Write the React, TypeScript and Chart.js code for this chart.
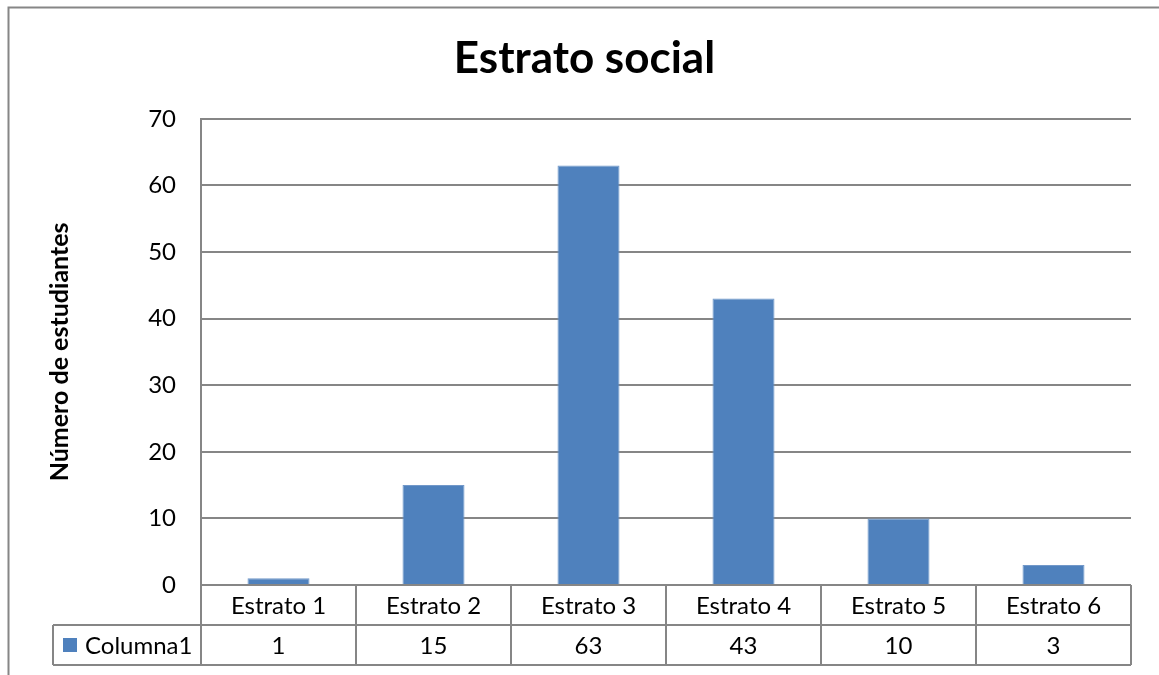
import React, { useEffect, useRef } from "react";
import { Chart, registerables } from "chart.js";

Chart.register(...registerables);

const categories = ["Estrato 1", "Estrato 2", "Estrato 3", "Estrato 4", "Estrato 5", "Estrato 6"];
const seriesName = "Columna1";
const values = [1, 15, 63, 43, 10, 3];
const chartTitle = "Estrato social";
const yTitle = "Número de estudiantes";
const yMax = 70;
const yStep = 10;

const FONT = "Lato, 'Noto Sans', sans-serif";
const GRID = "#868686";
const BAR = "#4F81BD";
const TXT = 24;

const tablePlugin = {
  id: "dataTable",
  afterDraw(chart: any) {
    const { ctx, chartArea, scales } = chart;
    const x = scales.x;
    const n = categories.length;
    const cw = (chartArea.right - chartArea.left) / n;
    const rowH = 40;
    const top = chartArea.bottom;
    const legendLeft = 53;
    ctx.save();
    ctx.strokeStyle = GRID;
    ctx.lineWidth = 2;
    // outer border
    ctx.beginPath();
    ctx.moveTo(8.5, 675);
    ctx.lineTo(8.5, 7.5);
    ctx.lineTo(1159, 7.5);
    ctx.stroke();
    // horizontal lines
    ctx.beginPath();
    ctx.moveTo(chartArea.left, top + rowH);
    ctx.lineTo(chartArea.right, top + rowH);
    ctx.moveTo(legendLeft, top + rowH);
    ctx.lineTo(chartArea.left, top + rowH);
    ctx.moveTo(legendLeft, top + 2 * rowH);
    ctx.lineTo(chartArea.right, top + 2 * rowH);
    ctx.moveTo(legendLeft, top + rowH);
    ctx.lineTo(legendLeft, top + 2 * rowH);
    for (let i = 0; i < n; i++) {
      const c = x.getPixelForValue(i);
      const l = c - cw / 2;
      const r = c + cw / 2;
      ctx.moveTo(l, top);
      ctx.lineTo(l, top + 2 * rowH);
      if (i === n - 1) {
        ctx.moveTo(r, top);
        ctx.lineTo(r, top + 2 * rowH);
      }
    }
    ctx.stroke();
    // text
    ctx.fillStyle = "#000";
    ctx.font = `${TXT}px ${FONT}`;
    ctx.textAlign = "center";
    ctx.textBaseline = "middle";
    for (let i = 0; i < n; i++) {
      const c = x.getPixelForValue(i);
      ctx.fillText(categories[i], c, top + rowH / 2 + 1);
      ctx.fillText(String(values[i]), c, top + rowH * 1.5 + 1);
    }
    // legend
    ctx.fillStyle = BAR;
    ctx.fillRect(63, top + rowH + 13, 14, 14);
    ctx.fillStyle = "#000";
    ctx.textAlign = "left";
    ctx.fillText(seriesName, 85, top + rowH * 1.5 + 1);
    ctx.restore();
  },
};

export default function App() {
  const ref = useRef<HTMLCanvasElement | null>(null);
  useEffect(() => {
    if (!ref.current) return;
    const chart = new Chart(ref.current, {
      type: "bar",
      data: {
        labels: categories,
        datasets: [
          {
            label: seriesName,
            data: values,
            backgroundColor: BAR,
            borderColor: "#7298c9",
            borderWidth: 1,
            categoryPercentage: 1,
            barPercentage: 0.4,
          },
        ],
      },
      options: {
        animation: false,
        responsive: false,
        devicePixelRatio: 1,
        layout: { padding: { left: 38, right: 28, top: 0, bottom: 90 } },
        plugins: {
          legend: { display: false },
          tooltip: { enabled: false },
          title: {
            display: true,
            text: chartTitle,
            color: "#000",
            font: { family: FONT, size: 44, weight: "bold" },
            padding: { top: 32, bottom: 34 },
          },
        },
        scales: {
          x: { display: false },
          y: {
            min: 0,
            max: yMax,
            afterFit(scale: any) {
              scale.width = 163;
            },
            ticks: {
              stepSize: yStep,
              color: "#000",
              font: { family: FONT, size: TXT },
              padding: 25,
            },
            grid: { color: GRID, lineWidth: 2, drawTicks: false },
            border: { color: GRID, width: 2 },
            title: {
              display: true,
              text: yTitle,
              color: "#000",
              font: { family: FONT, size: 25, weight: "bold" },
              padding: { top: 7, bottom: 0 },
            },
          },
        },
      },
      plugins: [tablePlugin],
    });
    return () => chart.destroy();
  }, []);
  return (
    <div style={{ position: "absolute", left: 0, top: 0, width: 1159, height: 675, background: "#fff" }}>
      <canvas ref={ref} width={1159} height={675} />
    </div>
  );
}
